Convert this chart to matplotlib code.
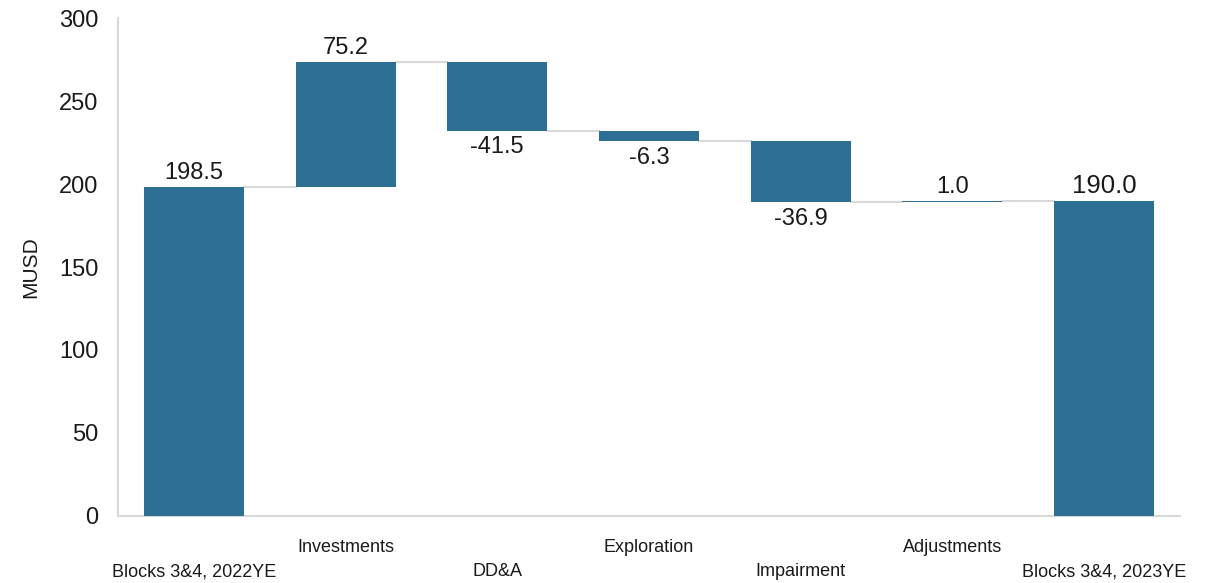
import matplotlib
matplotlib.use("Agg")
import matplotlib.pyplot as plt

plt.rcParams["font.family"] = ["Liberation Sans", "DejaVu Sans"]

# Data
categories = ["Blocks 3&4, 2022YE", "Investments", "DD&A", "Exploration",
              "Impairment", "Adjustments", "Blocks 3&4, 2023YE"]
changes = [198.5, 75.2, -41.5, -6.3, -36.9, 1.0, 190.0]
is_total = [True, False, False, False, False, False, True]
value_labels = ["198.5", "75.2", "-41.5", "-6.3", "-36.9", "1.0", "190.0"]

bar_color = "#2E6F96"
line_color = "#D9D9D9"
text_color = "#1a1a1a"
bar_w = 0.66

fig = plt.figure(figsize=(12.22, 5.83), dpi=100)
ax = fig.add_axes([0.0966, 0.115, 0.869, 0.854])

# compute bases
bottoms, heights, ends = [], [], []
running = 0.0
for v, tot in zip(changes, is_total):
    if tot:
        bottoms.append(0.0)
        heights.append(v)
        running = v
    else:
        bottoms.append(running if v >= 0 else running + v)
        heights.append(abs(v))
        running += v
    ends.append(running)

x = list(range(len(categories)))
ax.bar(x, heights, bottom=bottoms, width=bar_w, color=bar_color, zorder=3)

# connectors
for i in range(len(x) - 1):
    ax.plot([x[i] + bar_w / 2, x[i + 1] - bar_w / 2], [ends[i], ends[i]],
            color=line_color, lw=1.5, zorder=2)

# value labels
for i, (v, lab) in enumerate(zip(changes, value_labels)):
    top = bottoms[i] + heights[i]
    last = i == len(x) - 1
    if v >= 0:
        ax.annotate(lab, (x[i], top), xytext=(0, 2), textcoords="offset points",
                    ha="center", va="bottom", fontsize=18.5 if last else 17,
                    color=text_color)
    else:
        ax.annotate(lab, (x[i], bottoms[i]), xytext=(0, -4), textcoords="offset points",
                    ha="center", va="top", fontsize=17, color=text_color)

# staggered category labels
for i, c in enumerate(categories):
    yy = -0.063 if i % 2 == 1 else -0.112
    ax.text(x[i], yy, c, transform=ax.get_xaxis_transform(),
            ha="center", va="center", fontsize=13, color=text_color)

ax.set_xlim(-0.5, len(x) - 0.5)
ax.set_ylim(0, 300)
ax.set_yticks([0, 50, 100, 150, 200, 250, 300])
ax.set_xticks([])
ax.tick_params(axis="y", length=0, labelsize=17, pad=14, colors=text_color)
ax.set_ylabel("MUSD", fontsize=15, labelpad=14, color=text_color)
for s in ["top", "right"]:
    ax.spines[s].set_visible(False)
for s in ["left", "bottom"]:
    ax.spines[s].set_color(line_color)
    ax.spines[s].set_linewidth(1.5)

fig.savefig("out.png", dpi=100)
